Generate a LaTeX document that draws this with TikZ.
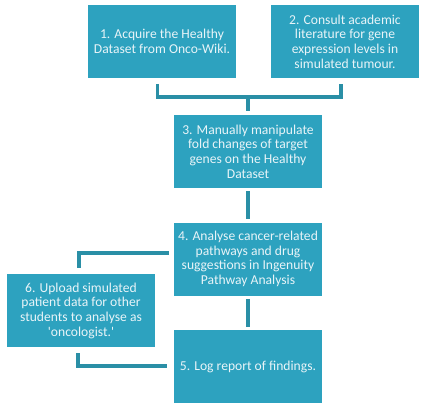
\documentclass[tikz,border=0pt]{standalone}
\usepackage{fontspec}
\setmainfont{Carlito}[Ligatures=TeXOff]
\definecolor{boxfill}{HTML}{2DA2BF}
\definecolor{boxline}{HTML}{2A8FA6}
\definecolor{boxtext}{HTML}{E8F4F8}

\begin{document}
\begin{tikzpicture}[x=0.75pt,y=-0.75pt]
\tikzstyle{passo} = [fill=boxfill, text=boxtext, minimum width=111pt, minimum height=54.75pt, inner sep=0pt, align=center, font=\fontsize{10.2}{11}\selectfont]
\tikzstyle{linea} = [draw=boxline, line width=2.6pt]
\useasboundingbox (0,0) rectangle (424,406);
\node[passo] (v1) at (162,41.5) {1. Acquire the Healthy\\Dataset from Onco-Wiki.};
\node[passo] (v2) at (345,41.5) {2. Consult academic\\literature for gene\\expression levels in\\simulated tumour.};
\node[passo] (v3) at (248,151.5) {3. Manually manipulate\\fold changes of target\\genes on the Healthy\\Dataset};
\node[passo] (v4) at (248,259) {4. Analyse cancer-related\\pathways and drug\\suggestions in Ingenuity\\Pathway Analysis};
\node[passo] (v5) at (248,366.5) {5. Log report of findings.};
\node[passo] (v6) at (81,310.5) {6. Upload simulated\\patient data for other\\students to analyse as\\'oncologist.'};
% bracket under 1 and 2
\coordinate (b1) at (157.5,84);
\coordinate (b2) at (341,84);
\coordinate (bj) at (248,97);
\coordinate (b3) at (248,111);
\draw[linea] (b1) |- (bj) -| (b2);
\draw[linea] (bj) -- (b3);
\draw[linea] ([yshift=-2.25pt]v3.south) -- ([yshift=2.25pt]v4.north);
\draw[linea] ([yshift=-2.25pt]v4.south) -- ([yshift=2.25pt]v5.north);
% side loop to 6
\coordinate (a1) at (169,253);
\coordinate (a2) at (79,268);
\draw[linea] (a1) -| (a2);
\coordinate (d1) at (78,353);
\coordinate (d2) at (167,366);
\draw[linea] (d1) |- (d2);
\end{tikzpicture}
\end{document}
